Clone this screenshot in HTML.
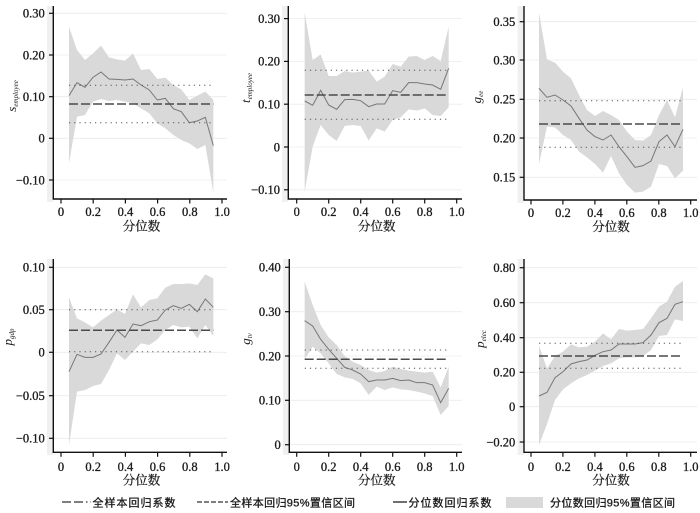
<!DOCTYPE html>
<html><head><meta charset="utf-8">
<style>
html,body{margin:0;padding:0;background:#fff;}
svg{display:block;}
.tk{font-family:"Liberation Serif",serif;font-size:12.5px;fill:#1a1a1a;stroke:#1a1a1a;stroke-width:0.3px;}
.xt{font-family:"Liberation Serif","Noto Serif CJK SC",serif;font-size:12.5px;fill:#1a1a1a;stroke:#1a1a1a;stroke-width:0.25px;}
.lg{font-family:"Liberation Sans","Noto Sans CJK SC",sans-serif;font-size:11px;fill:#1a1a1a;stroke:#1a1a1a;stroke-width:0.3px;}
.yl{font-family:"Liberation Serif",serif;font-style:italic;font-size:13px;fill:#1a1a1a;}
.band{fill:#d9d9d9;stroke:none;}
.ql{fill:none;stroke:#777;stroke-width:1;vector-effect:non-scaling-stroke;}
.grid{stroke:#ececec;stroke-width:0.8;}
.ax{stroke:#111;stroke-width:1.4;fill:none;}
.dash{stroke:#4a4a4a;stroke-width:1.5;stroke-dasharray:9,3;}
.dot{stroke:#555;stroke-width:1;stroke-dasharray:1.2,4;}
</style></head>
<body>
<svg width="700" height="513" viewBox="0 0 700 513" xmlns="http://www.w3.org/2000/svg">

<!-- ================= Panel 1 ================= -->
<rect x="47" y="6" width="6.3" height="196" fill="#f0f0f0"/>
<g>
<line class="grid" x1="53.3" x2="227" y1="13.3" y2="13.3"/>
<line class="grid" x1="53.3" x2="227" y1="55" y2="55"/>
<line class="grid" x1="53.3" x2="227" y1="96.7" y2="96.7"/>
<line class="grid" x1="53.3" x2="227" y1="138.3" y2="138.3"/>
<line class="grid" x1="53.3" x2="227" y1="180" y2="180"/>
</g>
<g transform="translate(0,0) scale(0.333333)">
<polygon class="band" points="207,80 231,150 255,180 279,160 303,137 327,172 351,178 375,182 399,160 423,210 448,207 472,237 496,233 520,255 544,268 568,300 592,287 616,275 640,300 640,578 616,435 592,447 568,430 544,420 520,405 496,385 472,370 448,340 423,325 399,310 375,305 351,300 327,303 303,297 279,305 255,345 231,350 207,490"/>
<polyline class="ql" points="207,287 231,248 255,262 279,232 303,216 327,237 351,238 375,240 399,237 423,255 448,270 472,300 496,295 520,326 544,335 568,368 592,363 616,352 640,437"/>
</g>
<line class="dot" x1="69" x2="213.3" y1="85.3" y2="85.3"/>
<line class="dot" x1="69" x2="213.3" y1="122.7" y2="122.7"/>
<line class="dash" x1="69" x2="213.3" y1="104" y2="104"/>
<polyline class="ax" points="53.3,6 53.3,199 227,199"/>
<g stroke="#111" stroke-width="1.2">
<line x1="49" x2="53.3" y1="13.3" y2="13.3"/><line x1="49" x2="53.3" y1="55" y2="55"/><line x1="49" x2="53.3" y1="96.7" y2="96.7"/><line x1="49" x2="53.3" y1="138.3" y2="138.3"/><line x1="49" x2="53.3" y1="180" y2="180"/>
<line x1="61" x2="61" y1="199" y2="203.5"/><line x1="93.2" x2="93.2" y1="199" y2="203.5"/><line x1="125.4" x2="125.4" y1="199" y2="203.5"/><line x1="157.6" x2="157.6" y1="199" y2="203.5"/><line x1="189.8" x2="189.8" y1="199" y2="203.5"/><line x1="222" x2="222" y1="199" y2="203.5"/>
</g>
<g class="tk" text-anchor="end">
<text x="44.8" y="17.6">0.30</text><text x="44.8" y="59.3">0.20</text><text x="44.8" y="101">0.10</text><text x="44.8" y="142.6">0</text><text x="44.8" y="184.3">−0.10</text>
</g>
<g class="tk" text-anchor="middle">
<text x="61" y="216">0</text><text x="93.2" y="216">0.2</text><text x="125.4" y="216">0.4</text><text x="157.6" y="216">0.6</text><text x="189.8" y="216">0.8</text><text x="222" y="216">1.0</text>
</g>
<text class="xt" x="141.5" y="230.5" text-anchor="middle">分位数</text>
<text class="yl" transform="translate(16,96) rotate(-90)" text-anchor="middle">s<tspan font-size="7" dy="2">employee</tspan></text>

<!-- ================= Panel 2 ================= -->
<rect x="282" y="6" width="6.3" height="196" fill="#f0f0f0"/>
<g>
<line class="grid" x1="288.3" x2="462" y1="18.6" y2="18.6"/>
<line class="grid" x1="288.3" x2="462" y1="61.4" y2="61.4"/>
<line class="grid" x1="288.3" x2="462" y1="104.2" y2="104.2"/>
<line class="grid" x1="288.3" x2="462" y1="147" y2="147"/>
<line class="grid" x1="288.3" x2="462" y1="189.8" y2="189.8"/>
</g>
<g transform="translate(230,0) scale(0.333333)">
<polygon class="band" points="224,38 248,180 272,163 296,228 320,228 344,213 368,218 392,215 416,212 440,245 464,230 488,192 512,200 536,170 560,168 584,180 608,168 632,183 656,80 656,322 632,348 608,345 584,325 560,332 536,328 512,352 488,360 464,395 440,385 416,422 392,378 368,375 344,378 320,423 296,405 272,375 248,440 224,575"/>
<polyline class="ql" points="224,303 248,316 272,271 296,315 320,328 344,299 368,298 392,302 416,320 440,312 464,312 488,272 512,277 536,248 560,248 584,252 608,255 632,268 656,205"/>
</g>
<line class="dot" x1="304.7" x2="448.7" y1="70.3" y2="70.3"/>
<line class="dot" x1="304.7" x2="448.7" y1="119.3" y2="119.3"/>
<line class="dash" x1="304.7" x2="448.7" y1="95" y2="95"/>
<polyline class="ax" points="288.3,6 288.3,199 462,199"/>
<g stroke="#111" stroke-width="1.2">
<line x1="284" x2="288.3" y1="18.6" y2="18.6"/><line x1="284" x2="288.3" y1="61.4" y2="61.4"/><line x1="284" x2="288.3" y1="104.2" y2="104.2"/><line x1="284" x2="288.3" y1="147" y2="147"/><line x1="284" x2="288.3" y1="189.8" y2="189.8"/>
<line x1="296.7" x2="296.7" y1="199" y2="203.5"/><line x1="328.7" x2="328.7" y1="199" y2="203.5"/><line x1="360.7" x2="360.7" y1="199" y2="203.5"/><line x1="392.7" x2="392.7" y1="199" y2="203.5"/><line x1="424.7" x2="424.7" y1="199" y2="203.5"/><line x1="456.7" x2="456.7" y1="199" y2="203.5"/>
</g>
<g class="tk" text-anchor="end">
<text x="280" y="22.9">0.30</text><text x="280" y="65.7">0.20</text><text x="280" y="108.5">0.10</text><text x="280" y="151.3">0</text><text x="280" y="194.1">−0.10</text>
</g>
<g class="tk" text-anchor="middle">
<text x="296.7" y="216">0</text><text x="328.7" y="216">0.2</text><text x="360.7" y="216">0.4</text><text x="392.7" y="216">0.6</text><text x="424.7" y="216">0.8</text><text x="456.7" y="216">1.0</text>
</g>
<text class="xt" x="376.7" y="230.5" text-anchor="middle">分位数</text>
<text class="yl" transform="translate(250,88) rotate(-90)" text-anchor="middle">t<tspan font-size="7" dy="2">employee</tspan></text>

<!-- ================= Panel 3 ================= -->
<rect x="517.7" y="6" width="6.3" height="197" fill="#f0f0f0"/>
<g>
<line class="grid" x1="524" x2="697" y1="21.7" y2="21.7"/>
<line class="grid" x1="524" x2="697" y1="60" y2="60"/>
<line class="grid" x1="524" x2="697" y1="99.3" y2="99.3"/>
<line class="grid" x1="524" x2="697" y1="138" y2="138"/>
<line class="grid" x1="524" x2="697" y1="177.3" y2="177.3"/>
</g>
<g transform="translate(460,0) scale(0.333333)">
<polygon class="band" points="237,38 261,178 285,188 309,215 333,235 357,285 381,330 405,348 429,333 453,345 477,360 501,395 525,420 549,422 573,405 597,345 621,300 645,352 669,262 669,512 645,535 621,498 597,492 573,560 549,575 525,578 501,555 477,520 453,468 429,518 405,492 381,472 357,455 333,420 309,405 285,382 261,380 237,492"/>
<polyline class="ql" points="237,265 261,292 285,285 309,300 333,318 357,355 381,390 405,410 429,420 453,405 477,440 501,470 525,502 549,497 573,483 597,425 621,405 645,440 669,388"/>
</g>
<line class="dot" x1="539" x2="683" y1="100.7" y2="100.7"/>
<line class="dot" x1="539" x2="683" y1="147.3" y2="147.3"/>
<line class="dash" x1="539" x2="683" y1="124" y2="124"/>
<polyline class="ax" points="524,6 524,200 697,200"/>
<g stroke="#111" stroke-width="1.2">
<line x1="519.7" x2="524" y1="21.7" y2="21.7"/><line x1="519.7" x2="524" y1="60" y2="60"/><line x1="519.7" x2="524" y1="99.3" y2="99.3"/><line x1="519.7" x2="524" y1="138" y2="138"/><line x1="519.7" x2="524" y1="177.3" y2="177.3"/>
<line x1="531" x2="531" y1="200" y2="204.5"/><line x1="562.9" x2="562.9" y1="200" y2="204.5"/><line x1="594.9" x2="594.9" y1="200" y2="204.5"/><line x1="626.8" x2="626.8" y1="200" y2="204.5"/><line x1="658.8" x2="658.8" y1="200" y2="204.5"/><line x1="690.7" x2="690.7" y1="200" y2="204.5"/>
</g>
<g class="tk" text-anchor="end">
<text x="515.3" y="26">0.35</text><text x="515.3" y="64.3">0.30</text><text x="515.3" y="103.6">0.25</text><text x="515.3" y="142.3">0.20</text><text x="515.3" y="181.6">0.15</text>
</g>
<g class="tk" text-anchor="middle">
<text x="531" y="217">0</text><text x="562.9" y="217">0.2</text><text x="594.9" y="217">0.4</text><text x="626.8" y="217">0.6</text><text x="658.8" y="217">0.8</text><text x="690.7" y="217">1.0</text>
</g>
<text class="xt" x="611" y="231" text-anchor="middle">分位数</text>
<text class="yl" transform="translate(481,97) rotate(-90)" text-anchor="middle">g<tspan font-size="7" dy="2">ee</tspan></text>

<!-- ================= Panel 4 ================= -->
<rect x="47" y="259" width="6.3" height="196" fill="#f0f0f0"/>
<g>
<line class="grid" x1="53.3" x2="227" y1="267.3" y2="267.3"/>
<line class="grid" x1="53.3" x2="227" y1="309.7" y2="309.7"/>
<line class="grid" x1="53.3" x2="227" y1="352.3" y2="352.3"/>
<line class="grid" x1="53.3" x2="227" y1="395.7" y2="395.7"/>
<line class="grid" x1="53.3" x2="227" y1="438.3" y2="438.3"/>
</g>
<g transform="translate(0,250) scale(0.333333)">
<polygon class="band" points="207,142 231,205 255,217 279,232 303,212 327,195 351,178 375,192 399,133 423,172 448,150 472,145 496,113 520,102 544,102 568,100 592,105 616,73 640,85 640,258 616,225 592,265 568,230 544,232 520,225 496,240 472,268 448,285 423,280 399,305 375,330 351,310 327,360 303,402 279,408 255,420 231,425 207,585"/>
<polyline class="ql" points="207,365 231,313 255,322 279,322 303,312 327,277 351,240 375,262 399,222 423,227 448,215 472,210 496,180 520,167 544,175 568,163 592,185 616,147 640,172"/>
</g>
<line class="dot" x1="69" x2="213.3" y1="309.7" y2="309.7"/>
<line class="dot" x1="69" x2="213.3" y1="351.7" y2="351.7"/>
<line class="dash" x1="69" x2="213.3" y1="330.3" y2="330.3"/>
<polyline class="ax" points="53.3,259 53.3,452.3 227,452.3"/>
<g stroke="#111" stroke-width="1.2">
<line x1="49" x2="53.3" y1="267.3" y2="267.3"/><line x1="49" x2="53.3" y1="309.7" y2="309.7"/><line x1="49" x2="53.3" y1="352.3" y2="352.3"/><line x1="49" x2="53.3" y1="395.7" y2="395.7"/><line x1="49" x2="53.3" y1="438.3" y2="438.3"/>
<line x1="61" x2="61" y1="452.3" y2="456.8"/><line x1="93.2" x2="93.2" y1="452.3" y2="456.8"/><line x1="125.4" x2="125.4" y1="452.3" y2="456.8"/><line x1="157.6" x2="157.6" y1="452.3" y2="456.8"/><line x1="189.8" x2="189.8" y1="452.3" y2="456.8"/><line x1="222" x2="222" y1="452.3" y2="456.8"/>
</g>
<g class="tk" text-anchor="end">
<text x="44.8" y="271.6">0.10</text><text x="44.8" y="314">0.05</text><text x="44.8" y="356.6">0</text><text x="44.8" y="400">−0.05</text><text x="44.8" y="442.6">−0.10</text>
</g>
<g class="tk" text-anchor="middle">
<text x="61" y="471">0</text><text x="93.2" y="471">0.2</text><text x="125.4" y="471">0.4</text><text x="157.6" y="471">0.6</text><text x="189.8" y="471">0.8</text><text x="222" y="471">1.0</text>
</g>
<text class="xt" x="141.5" y="484.5" text-anchor="middle">分位数</text>
<text class="yl" transform="translate(12,337) rotate(-90)" text-anchor="middle">p<tspan font-size="7" dy="2">gdp</tspan></text>

<!-- ================= Panel 5 ================= -->
<rect x="283" y="259" width="6.3" height="196" fill="#f0f0f0"/>
<g>
<line class="grid" x1="289.3" x2="462" y1="267.3" y2="267.3"/>
<line class="grid" x1="289.3" x2="462" y1="311.7" y2="311.7"/>
<line class="grid" x1="289.3" x2="462" y1="356" y2="356"/>
<line class="grid" x1="289.3" x2="462" y1="400.3" y2="400.3"/>
<line class="grid" x1="289.3" x2="462" y1="444.7" y2="444.7"/>
</g>
<g transform="translate(230,250) scale(0.333333)">
<polygon class="band" points="224,95 248,165 272,225 296,262 320,285 344,318 368,335 392,345 416,360 440,368 464,363 488,350 512,357 536,362 560,365 584,368 608,365 632,412 656,350 656,468 632,495 608,438 584,430 560,425 536,420 512,418 488,412 464,420 440,410 416,435 392,400 368,387 344,382 320,372 296,340 272,310 248,290 224,328"/>
<polyline class="ql" points="224,212 248,228 272,268 296,298 320,325 344,352 368,360 392,372 416,395 440,390 464,390 488,385 512,392 536,390 560,398 584,398 608,405 632,458 656,415"/>
</g>
<line class="dot" x1="304.7" x2="448.7" y1="350" y2="350"/>
<line class="dot" x1="304.7" x2="448.7" y1="368.3" y2="368.3"/>
<line class="dash" x1="304.7" x2="448.7" y1="359.3" y2="359.3"/>
<polyline class="ax" points="289.3,259 289.3,452.3 462,452.3"/>
<g stroke="#111" stroke-width="1.2">
<line x1="285" x2="289.3" y1="267.3" y2="267.3"/><line x1="285" x2="289.3" y1="311.7" y2="311.7"/><line x1="285" x2="289.3" y1="356" y2="356"/><line x1="285" x2="289.3" y1="400.3" y2="400.3"/><line x1="285" x2="289.3" y1="444.7" y2="444.7"/>
<line x1="296.7" x2="296.7" y1="452.3" y2="456.8"/><line x1="328.7" x2="328.7" y1="452.3" y2="456.8"/><line x1="360.7" x2="360.7" y1="452.3" y2="456.8"/><line x1="392.7" x2="392.7" y1="452.3" y2="456.8"/><line x1="424.7" x2="424.7" y1="452.3" y2="456.8"/><line x1="456.7" x2="456.7" y1="452.3" y2="456.8"/>
</g>
<g class="tk" text-anchor="end">
<text x="280.8" y="271.6">0.40</text><text x="280.8" y="316">0.30</text><text x="280.8" y="360.3">0.20</text><text x="280.8" y="404.6">0.10</text><text x="280.8" y="449">0</text>
</g>
<g class="tk" text-anchor="middle">
<text x="296.7" y="471">0</text><text x="328.7" y="471">0.2</text><text x="360.7" y="471">0.4</text><text x="392.7" y="471">0.6</text><text x="424.7" y="471">0.8</text><text x="456.7" y="471">1.0</text>
</g>
<text class="xt" x="376.7" y="484.5" text-anchor="middle">分位数</text>
<text class="yl" transform="translate(250,339) rotate(-90)" text-anchor="middle">g<tspan font-size="7" dy="2">tv</tspan></text>

<!-- ================= Panel 6 ================= -->
<rect x="517.7" y="259" width="6.3" height="196" fill="#f0f0f0"/>
<g>
<line class="grid" x1="524" x2="697" y1="267.7" y2="267.7"/>
<line class="grid" x1="524" x2="697" y1="302.7" y2="302.7"/>
<line class="grid" x1="524" x2="697" y1="337.7" y2="337.7"/>
<line class="grid" x1="524" x2="697" y1="372.3" y2="372.3"/>
<line class="grid" x1="524" x2="697" y1="406.7" y2="406.7"/>
<line class="grid" x1="524" x2="697" y1="442" y2="442"/>
</g>
<g transform="translate(460,250) scale(0.333333)">
<polygon class="band" points="237,288 261,355 285,318 309,305 333,283 357,292 381,290 405,275 429,250 453,268 477,237 501,242 525,240 549,237 573,205 597,170 621,155 645,110 669,93 669,213 645,208 621,255 597,258 573,300 549,318 525,322 501,322 477,325 453,340 429,348 405,362 381,375 357,385 333,400 309,418 285,450 261,522 237,585"/>
<polyline class="ql" points="237,438 261,427 285,383 309,365 333,342 357,335 381,330 405,316 429,305 453,300 477,282 501,282 525,282 549,278 573,255 597,218 621,205 645,163 669,155"/>
</g>
<line class="dot" x1="539" x2="683" y1="343.3" y2="343.3"/>
<line class="dot" x1="539" x2="683" y1="368.3" y2="368.3"/>
<line class="dash" x1="539" x2="683" y1="356" y2="356"/>
<polyline class="ax" points="524,259 524,452.3 697,452.3"/>
<g stroke="#111" stroke-width="1.2">
<line x1="519.7" x2="524" y1="267.7" y2="267.7"/><line x1="519.7" x2="524" y1="302.7" y2="302.7"/><line x1="519.7" x2="524" y1="337.7" y2="337.7"/><line x1="519.7" x2="524" y1="372.3" y2="372.3"/><line x1="519.7" x2="524" y1="406.7" y2="406.7"/><line x1="519.7" x2="524" y1="442" y2="442"/>
<line x1="531" x2="531" y1="452.3" y2="456.8"/><line x1="562.9" x2="562.9" y1="452.3" y2="456.8"/><line x1="594.9" x2="594.9" y1="452.3" y2="456.8"/><line x1="626.8" x2="626.8" y1="452.3" y2="456.8"/><line x1="658.8" x2="658.8" y1="452.3" y2="456.8"/><line x1="690.7" x2="690.7" y1="452.3" y2="456.8"/>
</g>
<g class="tk" text-anchor="end">
<text x="515.3" y="272">0.80</text><text x="515.3" y="307">0.60</text><text x="515.3" y="342">0.40</text><text x="515.3" y="376.6">0.20</text><text x="515.3" y="411">0</text><text x="515.3" y="446.3">−0.20</text>
</g>
<g class="tk" text-anchor="middle">
<text x="531" y="471">0</text><text x="562.9" y="471">0.2</text><text x="594.9" y="471">0.4</text><text x="626.8" y="471">0.6</text><text x="658.8" y="471">0.8</text><text x="690.7" y="471">1.0</text>
</g>
<text class="xt" x="611" y="484.5" text-anchor="middle">分位数</text>
<text class="yl" transform="translate(484,339) rotate(-90)" text-anchor="middle">p<tspan font-size="7" dy="2">elec</tspan></text>

<!-- ================= Legend ================= -->
<line x1="62" x2="91" y1="502" y2="502" stroke="#333" stroke-width="1.3" stroke-dasharray="9,3,9,3,1.5,3"/>
<text class="lg" x="92.5" y="506.5" textLength="83" lengthAdjust="spacing">全样本回归系数</text>
<line x1="197" x2="228" y1="502" y2="502" stroke="#333" stroke-width="1.2" stroke-dasharray="5,2"/>
<text class="lg" x="230" y="506.5" textLength="125" lengthAdjust="spacing">全样本回归95%置信区间</text>
<line x1="393" x2="407" y1="502" y2="502" stroke="#222" stroke-width="1.3"/>
<text class="lg" x="408.5" y="506.5" textLength="83" lengthAdjust="spacing">分位数回归系数</text>
<rect x="506" y="497" width="37" height="11" fill="#d9d9d9"/>
<text class="lg" x="550" y="506.5" textLength="125" lengthAdjust="spacing">分位数回归95%置信区间</text>
</svg>
</body></html>
